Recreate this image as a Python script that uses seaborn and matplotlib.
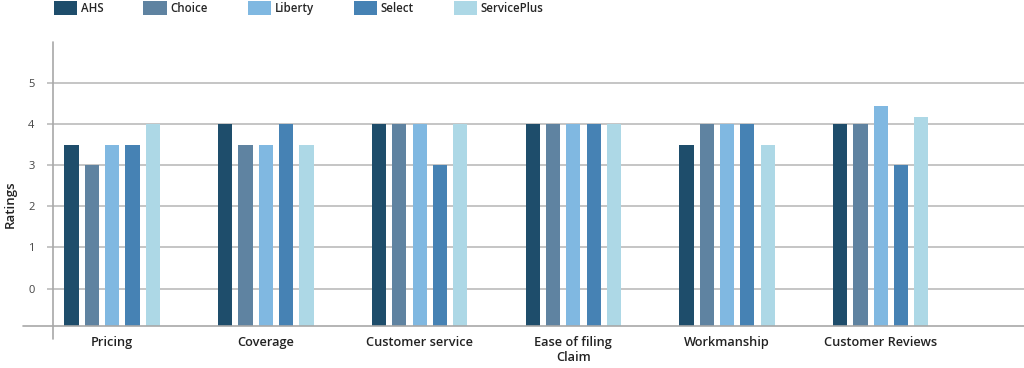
import matplotlib
matplotlib.use("Agg")
import matplotlib.pyplot as plt
import seaborn as sns
import pandas as pd
from matplotlib.patches import Patch
from matplotlib.lines import Line2D

categories = ["Pricing", "Coverage", "Customer service", "Ease of filing\nClaim",
              "Workmanship", "Customer Reviews"]
providers = ["AHS", "Choice", "Liberty", "Select", "ServicePlus"]
ahs = [3.5, 4, 4, 4, 3.5, 4]
choice = [3, 3.5, 4, 4, 4, 4]
liberty = [3.5, 3.5, 4, 4, 4, 4.45]
select = [3.5, 4, 3, 4, 4, 3]
serviceplus = [4, 3.5, 4, 4, 3.5, 4.18]
yticks = [0, 1, 2, 3, 4, 5]
colors = ["#1e4d6b", "#5f83a1", "#80b8e1", "#4682b4", "#add8e6"]

series = [ahs, choice, liberty, select, serviceplus]
rows = []
for prov, vals in zip(providers, series):
    for cat, v in zip(categories, vals):
        rows.append({"category": cat, "provider": prov, "rating": v})
df = pd.DataFrame(rows)

sns.set_theme(style="white")
plt.rcParams["font.family"] = ["Open Sans", "DejaVu Sans"]

W, H = 1024, 368
fig = plt.figure(figsize=(W / 100, H / 100), dpi=100)
ax_l, ax_r, ax_t, ax_b = 53, 1024, 42, 326
ax = fig.add_axes([ax_l / W, 1 - ax_b / H, (ax_r - ax_l) / W, (ax_b - ax_t) / H])

sns.barplot(data=df, x="category", y="rating", hue="provider", order=categories,
            hue_order=providers, palette=colors, width=0.66, gap=0.3,
            saturation=1, legend=False, ax=ax, errorbar=None)

ymin, ymax = -0.91, 6.0
ax.set_ylim(ymin, ymax)
ax.set_xlim(-0.385, 5.932)
for p in ax.patches:
    h = p.get_height()
    p.set_y(ymin)
    p.set_height(h - ymin)
    p.set_linewidth(0)

for s in ax.spines.values():
    s.set_visible(False)

gcol = "#b5b5b5"
ax.set_yticks(yticks)
ax.yaxis.grid(True, color=gcol, lw=1.1)
ax.set_axisbelow(True)
ax.tick_params(axis="y", length=4.3, width=1.1, color=gcol, pad=9,
               labelsize=8, labelcolor="#444444", left=True)
ax.tick_params(axis="x", length=0, pad=7, labelsize=9.2, labelcolor="#222222")
for lab in ax.get_xticklabels():
    lab.set_fontweight("semibold")

aw, ah = ax_r - ax_l, ax_b - ax_t
ax.add_line(Line2D([(23 - ax_l) / aw, 1], [0, 0], transform=ax.transAxes,
                   color="#a8a8a8", lw=1.2, clip_on=False))
ax.add_line(Line2D([0, 0], [-13 / ah, 1], transform=ax.transAxes,
                   color="#a8a8a8", lw=1.2, clip_on=False))

ax.set_xlabel("")
ax.set_ylabel("Ratings", fontsize=9.5, fontweight="semibold", color="#222222")
ax.yaxis.set_label_coords((17 - ax_l) / aw, (ax_b - 204) / ah)

handles = [Patch(facecolor=c, edgecolor="none") for c in colors]
fig.legend(handles, providers, loc="center left",
           bbox_to_anchor=(54 / W, 1 - 8 / H), ncol=5, frameon=False,
           prop={"family": ["Open Sans", "DejaVu Sans"], "weight": "semibold", "size": 8.3},
           handlelength=2.0, handleheight=1.45, handletextpad=0.35,
           columnspacing=3.45, borderpad=0, borderaxespad=0)

fig.savefig("out.png", dpi=100)
